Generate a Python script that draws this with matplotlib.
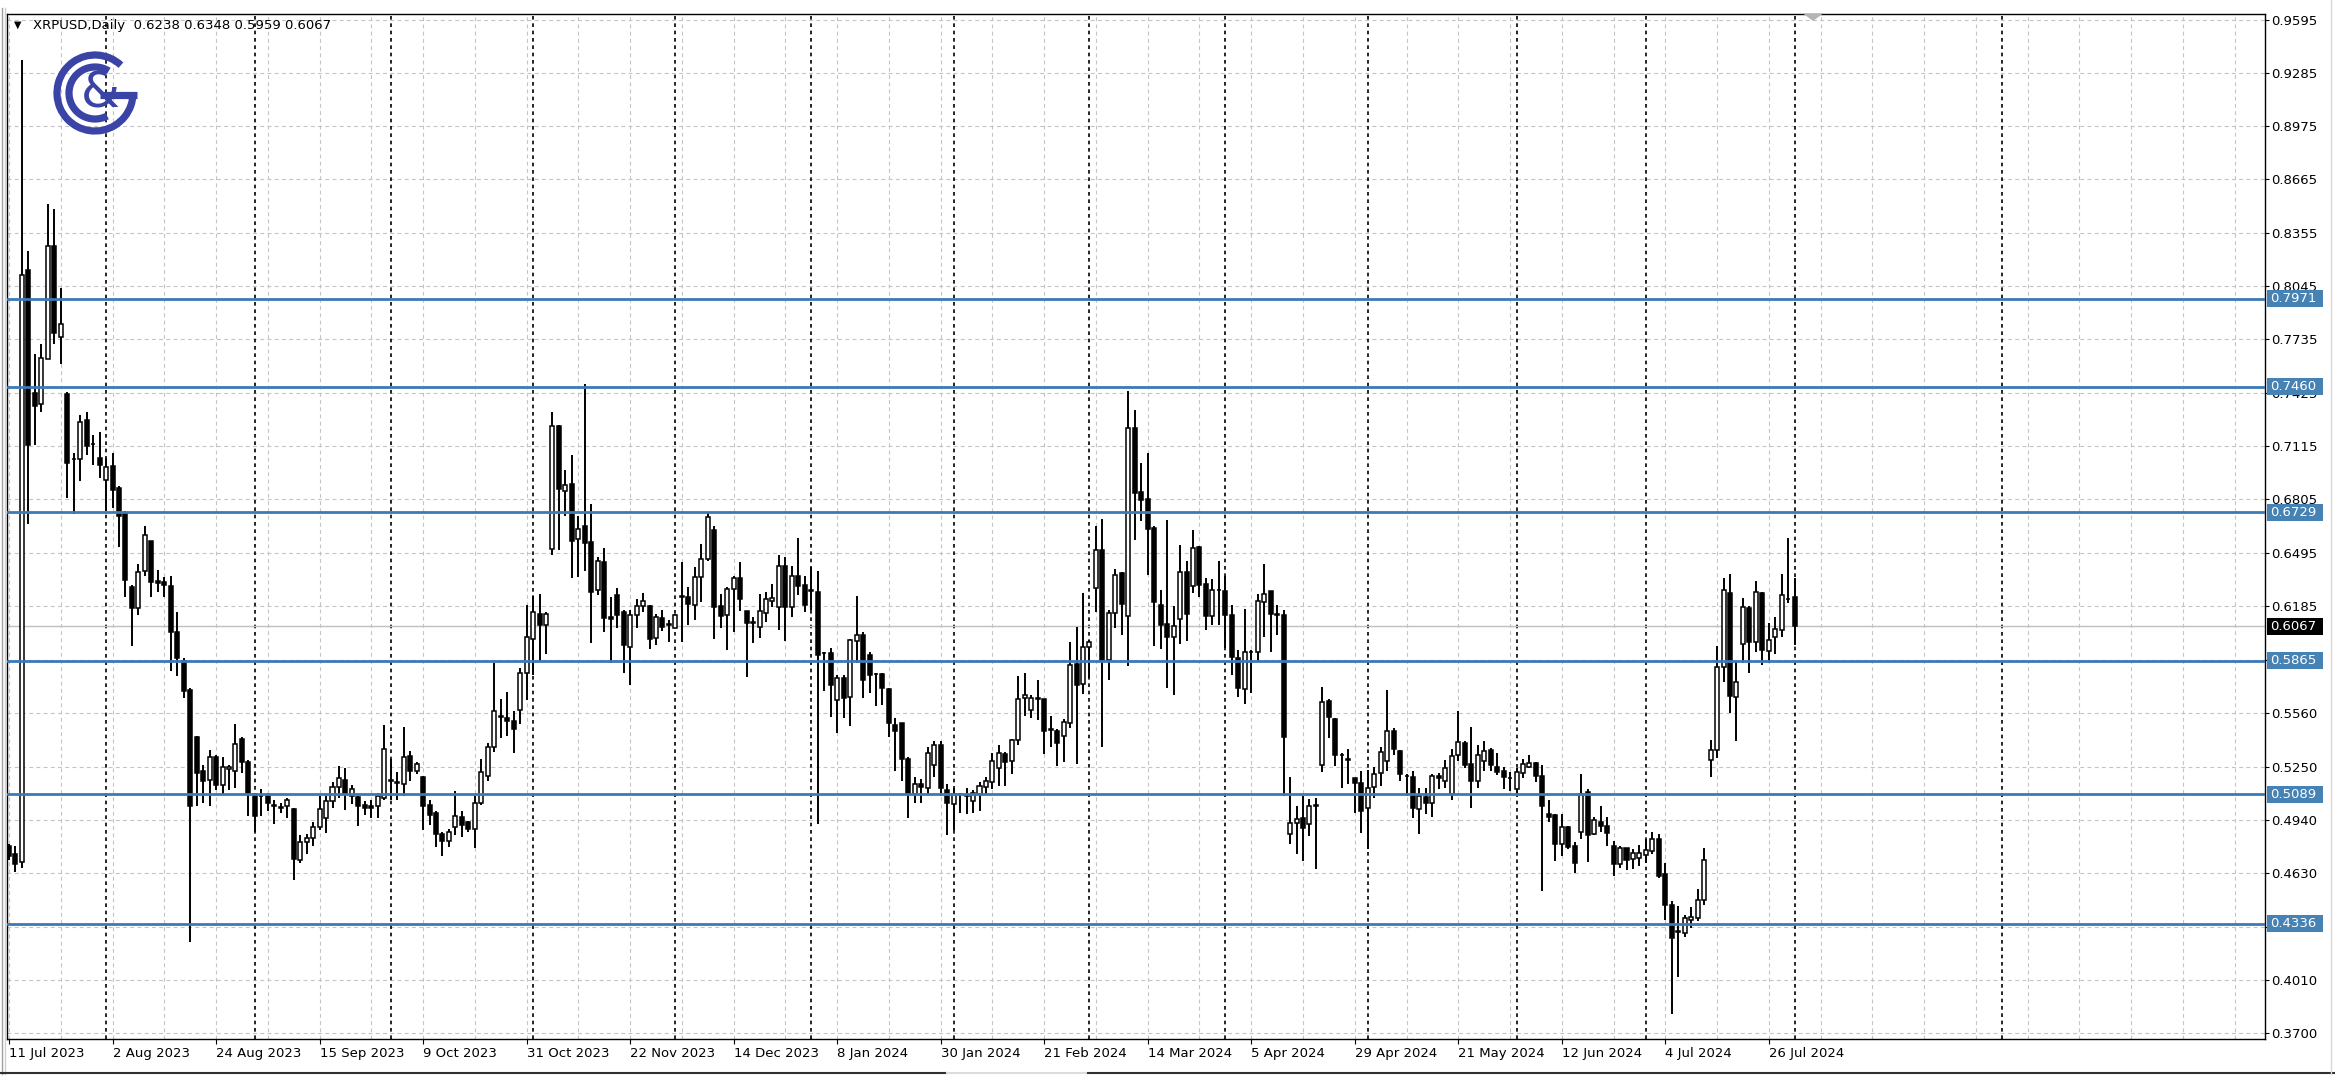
import numpy as np
import matplotlib
matplotlib.use('Agg')
import matplotlib.pyplot as plt
import matplotlib.transforms as mtransforms
from matplotlib.patches import Rectangle, Arc, Polygon
from matplotlib.lines import Line2D

# XRPUSD daily candles, 11 Jul 2023 .. 1 Aug 2024 (one bar per weekday)
opens = [
    0.4790, 0.4744, 0.4694, 0.8139, 0.7422, 0.7357, 0.7622, 0.8278, 0.7750, 0.7416,
    0.7037, 0.7037, 0.7268, 0.7127, 0.7047, 0.6920, 0.6997, 0.6870, 0.6728, 0.6294,
    0.6176, 0.6388, 0.6565, 0.6328, 0.6323, 0.6300, 0.6034, 0.5866, 0.5697, 0.5423,
    0.5225, 0.5172, 0.5304, 0.5142, 0.5236, 0.5225, 0.5414, 0.5275, 0.5089, 0.5078,
    0.5078, 0.5030, 0.5010, 0.5024, 0.5005, 0.4709, 0.4815, 0.4835, 0.4900, 0.4950,
    0.5049, 0.5133, 0.5173, 0.5079, 0.5073, 0.5026, 0.5024, 0.5020, 0.5069, 0.5173,
    0.5160, 0.5149, 0.5312, 0.5228, 0.5192, 0.5030, 0.4980, 0.4860, 0.4821, 0.4900,
    0.4960, 0.4926, 0.4890, 0.5039, 0.5198, 0.5367, 0.5542, 0.5536, 0.5516, 0.5582,
    0.5795, 0.5993, 0.6138, 0.6073, 0.6516, 0.7229, 0.6854, 0.6894, 0.6576, 0.6649,
    0.6559, 0.6276, 0.6443, 0.6118, 0.6251, 0.6150, 0.5948, 0.6135, 0.6185, 0.6185,
    0.5996, 0.6115, 0.6077, 0.6058, 0.6237, 0.6237, 0.6189, 0.6353, 0.6459, 0.6629,
    0.6185, 0.6131, 0.6285, 0.6347, 0.6154, 0.6086, 0.6063, 0.6146, 0.6212, 0.6179,
    0.6416, 0.6179, 0.6362, 0.6308, 0.6272, 0.6266, 0.5909, 0.5909, 0.5639, 0.5768,
    0.5658, 0.5980, 0.6015, 0.5899, 0.5787, 0.5787, 0.5703, 0.5494, 0.5506, 0.5298,
    0.5089, 0.5149, 0.5129, 0.5258, 0.5377, 0.5113, 0.5033, 0.5089, 0.5079, 0.5049,
    0.5089, 0.5133, 0.5159, 0.5244, 0.5324, 0.5284, 0.5403, 0.5650, 0.5582, 0.5646,
    0.5642, 0.5463, 0.5457, 0.5431, 0.5506, 0.5848, 0.5729, 0.5948, 0.6291, 0.6510,
    0.5868, 0.6142, 0.6377, 0.6127, 0.7220, 0.6848, 0.6808, 0.6639, 0.6192, 0.6083,
    0.6007, 0.6112, 0.6381, 0.6303, 0.6527, 0.6314, 0.6127, 0.6276, 0.6270, 0.6131,
    0.5880, 0.5703, 0.5915, 0.5919, 0.6208, 0.6270, 0.6141, 0.6131, 0.4858, 0.4925,
    0.4954, 0.4915, 0.5021, 0.5259, 0.5633, 0.5529, 0.5321, 0.5292, 0.5185, 0.5157,
    0.5012, 0.5132, 0.5214, 0.5286, 0.5459, 0.5340, 0.5195, 0.5189, 0.5002, 0.5074,
    0.5041, 0.5195, 0.5170, 0.5093, 0.5320, 0.5388, 0.5266, 0.5166, 0.5282, 0.5349,
    0.5251, 0.5225, 0.5182, 0.5119, 0.5212, 0.5251, 0.5270, 0.5198, 0.4977, 0.4967,
    0.4800, 0.4898, 0.4787, 0.4869, 0.5104, 0.4859, 0.4931, 0.4904, 0.4790, 0.4682,
    0.4775, 0.4712, 0.4722, 0.4735, 0.4761, 0.4829, 0.4624, 0.4448, 0.4291, 0.4281,
    0.4359, 0.4369, 0.4477, 0.5290, 0.5348, 0.5828, 0.6259, 0.5656, 0.5965, 0.6171,
    0.5975, 0.6263, 0.5926, 0.6004, 0.6044, 0.6224, 0.6238]

highs = [
    0.4800, 0.4788, 0.9360, 0.8249, 0.7652, 0.7711, 0.8523, 0.8494, 0.8036, 0.7428,
    0.7076, 0.7298, 0.7312, 0.7180, 0.7195, 0.7047, 0.7076, 0.6884, 0.6737, 0.6309,
    0.6427, 0.6648, 0.6565, 0.6397, 0.6352, 0.6358, 0.6152, 0.5880, 0.5709, 0.5431,
    0.5260, 0.5349, 0.5319, 0.5304, 0.5260, 0.5497, 0.5423, 0.5290, 0.5098, 0.5118,
    0.5098, 0.5054, 0.5039, 0.5069, 0.5010, 0.4851, 0.4860, 0.4930, 0.5079, 0.5079,
    0.5159, 0.5252, 0.5244, 0.5145, 0.5079, 0.5049, 0.5059, 0.5099, 0.5490, 0.5298,
    0.5218, 0.5482, 0.5343, 0.5278, 0.5198, 0.5059, 0.4990, 0.4870, 0.4890, 0.5109,
    0.4990, 0.4934, 0.5079, 0.5298, 0.5387, 0.5854, 0.5642, 0.5686, 0.5576, 0.5824,
    0.6192, 0.6241, 0.6252, 0.6152, 0.7315, 0.7235, 0.6977, 0.7061, 0.6709, 0.7474,
    0.6777, 0.6468, 0.6521, 0.6237, 0.6289, 0.6160, 0.6160, 0.6227, 0.6262, 0.6193,
    0.6141, 0.6160, 0.6102, 0.6141, 0.6440, 0.6295, 0.6411, 0.6546, 0.6729, 0.6652,
    0.6256, 0.6295, 0.6362, 0.6440, 0.6154, 0.6121, 0.6256, 0.6266, 0.6314, 0.6482,
    0.6468, 0.6416, 0.6578, 0.6362, 0.6410, 0.6391, 0.5919, 0.5938, 0.5784, 0.5784,
    0.5992, 0.6243, 0.6031, 0.5919, 0.5793, 0.5793, 0.5710, 0.5533, 0.5506, 0.5308,
    0.5188, 0.5178, 0.5367, 0.5397, 0.5397, 0.5149, 0.5129, 0.5099, 0.5129, 0.5113,
    0.5159, 0.5188, 0.5331, 0.5377, 0.5338, 0.5411, 0.5775, 0.5795, 0.5666, 0.5755,
    0.5646, 0.5546, 0.5471, 0.5526, 0.5973, 0.6063, 0.6262, 0.5987, 0.6649, 0.6689,
    0.6162, 0.6401, 0.6381, 0.7434, 0.7325, 0.7017, 0.7076, 0.6649, 0.6277, 0.6683,
    0.6182, 0.6540, 0.6444, 0.6626, 0.6536, 0.6347, 0.6343, 0.6449, 0.6359, 0.6189,
    0.5928, 0.6165, 0.5928, 0.6256, 0.6430, 0.6270, 0.6189, 0.6160, 0.5189, 0.5021,
    0.5079, 0.5060, 0.5069, 0.5716, 0.5645, 0.5533, 0.5330, 0.5355, 0.5185, 0.5224,
    0.5234, 0.5247, 0.5363, 0.5697, 0.5475, 0.5349, 0.5205, 0.5224, 0.5128, 0.5128,
    0.5205, 0.5214, 0.5292, 0.5355, 0.5575, 0.5398, 0.5484, 0.5378, 0.5402, 0.5359,
    0.5329, 0.5251, 0.5217, 0.5241, 0.5296, 0.5319, 0.5276, 0.5260, 0.5055, 0.4977,
    0.4977, 0.4908, 0.4810, 0.5206, 0.5123, 0.4957, 0.5021, 0.4957, 0.4820, 0.4790,
    0.4780, 0.4771, 0.4794, 0.4829, 0.4869, 0.4859, 0.4688, 0.4467, 0.4438, 0.4389,
    0.4434, 0.4540, 0.4780, 0.5407, 0.5955, 0.6347, 0.6373, 0.5867, 0.6230, 0.6185,
    0.6328, 0.6269, 0.6087, 0.6118, 0.6373, 0.6582, 0.6348]

lows = [
    0.4710, 0.4640, 0.4660, 0.6663, 0.7121, 0.7313, 0.7622, 0.7711, 0.7593, 0.6810,
    0.6722, 0.6914, 0.7062, 0.7003, 0.6929, 0.6737, 0.6752, 0.6530, 0.6235, 0.5954,
    0.6132, 0.6358, 0.6235, 0.6264, 0.6235, 0.5807, 0.5778, 0.5650, 0.4230, 0.5024,
    0.5039, 0.5024, 0.5113, 0.5083, 0.5113, 0.5127, 0.5216, 0.4965, 0.4868, 0.4965,
    0.4995, 0.4920, 0.4980, 0.4950, 0.4590, 0.4692, 0.4741, 0.4791, 0.4880, 0.4866,
    0.5010, 0.5069, 0.5000, 0.5034, 0.4904, 0.4970, 0.4950, 0.4950, 0.5059, 0.5059,
    0.5059, 0.5079, 0.5168, 0.5208, 0.4880, 0.4910, 0.4781, 0.4731, 0.4781, 0.4851,
    0.4841, 0.4870, 0.4777, 0.5030, 0.5168, 0.5338, 0.5417, 0.5427, 0.5328, 0.5497,
    0.5636, 0.5785, 0.5864, 0.5908, 0.6480, 0.6512, 0.6709, 0.6345, 0.6351, 0.6391,
    0.5967, 0.6247, 0.6031, 0.5851, 0.6054, 0.5793, 0.5726, 0.6058, 0.6150, 0.5934,
    0.5957, 0.6038, 0.5973, 0.6054, 0.5977, 0.6073, 0.6102, 0.6208, 0.6449, 0.5992,
    0.6054, 0.5928, 0.6031, 0.6154, 0.5774, 0.5967, 0.5996, 0.6092, 0.6179, 0.6044,
    0.5980, 0.6121, 0.6247, 0.6150, 0.6160, 0.4915, 0.5691, 0.5542, 0.5446, 0.5533,
    0.5485, 0.5851, 0.5652, 0.5677, 0.5606, 0.5610, 0.5421, 0.5224, 0.5169, 0.4950,
    0.5039, 0.5039, 0.5089, 0.5188, 0.5079, 0.4851, 0.4880, 0.4980, 0.4974, 0.4980,
    0.4990, 0.5089, 0.5119, 0.5139, 0.5139, 0.5208, 0.5377, 0.5546, 0.5536, 0.5522,
    0.5327, 0.5367, 0.5252, 0.5278, 0.5476, 0.5268, 0.5675, 0.5765, 0.6152, 0.5367,
    0.5755, 0.6059, 0.6019, 0.5834, 0.6570, 0.6679, 0.6365, 0.5954, 0.5934, 0.5709,
    0.5669, 0.5964, 0.5979, 0.6259, 0.6237, 0.6044, 0.6073, 0.6073, 0.5938, 0.5783,
    0.5658, 0.5614, 0.5677, 0.5865, 0.6006, 0.5915, 0.6019, 0.5079, 0.4800, 0.4742,
    0.4703, 0.4848, 0.4655, 0.5220, 0.5417, 0.5253, 0.5128, 0.5147, 0.4983, 0.4867,
    0.4771, 0.5066, 0.5137, 0.5228, 0.5321, 0.5166, 0.5079, 0.4954, 0.4857, 0.4973,
    0.4958, 0.5118, 0.5128, 0.5054, 0.5282, 0.5243, 0.5012, 0.5128, 0.5224, 0.5224,
    0.5202, 0.5119, 0.5108, 0.5094, 0.5182, 0.5241, 0.5159, 0.4526, 0.4927, 0.4702,
    0.4732, 0.4771, 0.4630, 0.4830, 0.4696, 0.4853, 0.4873, 0.4790, 0.4614, 0.4663,
    0.4649, 0.4653, 0.4673, 0.4692, 0.4741, 0.4604, 0.4359, 0.3811, 0.4027, 0.4262,
    0.4311, 0.4356, 0.4448, 0.5192, 0.5303, 0.5740, 0.5564, 0.5401, 0.5852, 0.5793,
    0.5916, 0.5844, 0.5852, 0.5907, 0.6004, 0.6200, 0.5959]

closes = [
    0.4730, 0.4685, 0.8110, 0.7121, 0.7348, 0.7628, 0.8278, 0.7770, 0.7823, 0.7017,
    0.7040, 0.7253, 0.7115, 0.7124, 0.7003, 0.6994, 0.6861, 0.6707, 0.6338, 0.6176,
    0.6382, 0.6595, 0.6323, 0.6320, 0.6309, 0.6034, 0.5880, 0.5688, 0.5024, 0.5216,
    0.5166, 0.5304, 0.5142, 0.5246, 0.5246, 0.5385, 0.5275, 0.5098, 0.4965, 0.5078,
    0.5039, 0.5024, 0.5010, 0.5054, 0.4712, 0.4815, 0.4835, 0.4900, 0.5004, 0.5053,
    0.5133, 0.5182, 0.5089, 0.5119, 0.5020, 0.5010, 0.5010, 0.5079, 0.5351, 0.5168,
    0.5158, 0.5308, 0.5228, 0.5264, 0.5020, 0.4970, 0.4860, 0.4821, 0.4870, 0.4965,
    0.4910, 0.4886, 0.5039, 0.5218, 0.5367, 0.5576, 0.5542, 0.5516, 0.5467, 0.5795,
    0.6003, 0.6152, 0.6073, 0.6138, 0.7229, 0.6868, 0.6888, 0.6564, 0.6635, 0.6550,
    0.6266, 0.6449, 0.6115, 0.6112, 0.6135, 0.5957, 0.6131, 0.6183, 0.6212, 0.5992,
    0.6121, 0.6063, 0.6077, 0.6131, 0.6237, 0.6198, 0.6353, 0.6459, 0.6700, 0.6179,
    0.6127, 0.6281, 0.6347, 0.6227, 0.6088, 0.6086, 0.6154, 0.6227, 0.6233, 0.6416,
    0.6179, 0.6362, 0.6300, 0.6189, 0.6272, 0.5899, 0.5909, 0.5726, 0.5768, 0.5652,
    0.5986, 0.6015, 0.5755, 0.5784, 0.5787, 0.5706, 0.5504, 0.5456, 0.5298, 0.5089,
    0.5149, 0.5133, 0.5331, 0.5377, 0.5129, 0.5039, 0.5093, 0.5089, 0.5079, 0.5099,
    0.5139, 0.5169, 0.5282, 0.5328, 0.5278, 0.5407, 0.5642, 0.5666, 0.5650, 0.5646,
    0.5457, 0.5463, 0.5387, 0.5510, 0.5840, 0.5725, 0.5948, 0.5973, 0.6510, 0.5868,
    0.6142, 0.6365, 0.6198, 0.7220, 0.6842, 0.6802, 0.6635, 0.6206, 0.6073, 0.6007,
    0.6067, 0.6381, 0.6138, 0.6520, 0.6308, 0.6127, 0.6276, 0.6276, 0.6135, 0.5890,
    0.5710, 0.5915, 0.5915, 0.6212, 0.6256, 0.6141, 0.6131, 0.5421, 0.4925, 0.4944,
    0.4896, 0.5021, 0.5021, 0.5629, 0.5537, 0.5321, 0.5317, 0.5292, 0.5157, 0.4993,
    0.5128, 0.5209, 0.5336, 0.5459, 0.5355, 0.5205, 0.5195, 0.5008, 0.5079, 0.5041,
    0.5195, 0.5182, 0.5243, 0.5311, 0.5394, 0.5263, 0.5166, 0.5321, 0.5344, 0.5263,
    0.5217, 0.5192, 0.5182, 0.5217, 0.5264, 0.5270, 0.5198, 0.5021, 0.4957, 0.4800,
    0.4898, 0.4781, 0.4688, 0.5094, 0.4853, 0.4943, 0.4908, 0.4865, 0.4682, 0.4780,
    0.4708, 0.4747, 0.4751, 0.4767, 0.4829, 0.4614, 0.4448, 0.4252, 0.4291, 0.4369,
    0.4379, 0.4477, 0.4708, 0.5348, 0.5828, 0.6279, 0.5662, 0.5740, 0.6177, 0.5975,
    0.6269, 0.5930, 0.5989, 0.6053, 0.6249, 0.6224, 0.6067]

# date axis labels (one every 16 bars)
date_labels = ['11 Jul 2023', '2 Aug 2023', '24 Aug 2023', '15 Sep 2023', '9 Oct 2023',
               '31 Oct 2023', '22 Nov 2023', '14 Dec 2023', '8 Jan 2024', '30 Jan 2024',
               '21 Feb 2024', '14 Mar 2024', '5 Apr 2024', '29 Apr 2024', '21 May 2024',
               '12 Jun 2024', '4 Jul 2024', '26 Jul 2024']
# first bar of each month (period separators)
month_starts = [15, 38, 59, 81, 103, 124, 146, 167, 188, 210, 233, 253, 276, 308]

# price scale labels
price_labels = ['0.9595', '0.9285', '0.8975', '0.8665', '0.8355', '0.8045', '0.7735',
                '0.7425', '0.7115', '0.6805', '0.6495', '0.6185', '0.5870', '0.5560',
                '0.5250', '0.4940', '0.4630', '0.4320', '0.4010', '0.3700']
hidden_labels = ['0.5870', '0.4320']

# support / resistance levels drawn on the chart
levels = [0.7971, 0.7460, 0.6729, 0.5865, 0.5089, 0.4336]
last_price = 0.6067
header = 'XRPUSD,Daily  0.6238 0.6348 0.5959 0.6067'

W, H = 2335, 1089
fig = plt.figure(figsize=(W / 100, H / 100), dpi=100)
fig.patch.set_facecolor('white')

# plot area in pixels
L, R, T, B = 7, 2265, 13.5, 1039
ax = fig.add_axes([L / W, 1 - B / H, (R - L) / W, (B - T) / H])
x0px, dx = 9.0, 6.47
ax.set_xlim((L - x0px) / dx, (R - x0px) / dx)
ax.set_ylim(0.3667, 0.9630)

o = np.array(opens); h = np.array(highs); lo = np.array(lows); c = np.array(closes)
idx = np.arange(len(o))
up = c >= o

grid_col = '#c4c4c4'
fs = 9.5

# grid
pvals = [float(s) for s in price_labels]
for p in pvals:
    ax.axhline(p, color=grid_col, lw=0.8, dashes=(3.5, 3), zorder=1)
for b in range(0, 349, 8):
    ax.axvline(b, color=grid_col, lw=0.8, dashes=(3.5, 3), zorder=1)
for b in month_starts:
    ax.axvline(b, color='black', lw=1.2, dashes=(2.2, 2.2), zorder=2)

# last price line
ax.axhline(last_price, color='#c0c0c0', lw=1.0, zorder=2)

# candles
ax.vlines(idx, lo, h, color='black', lw=1.4, zorder=3)
body_bot = np.minimum(o, c)
body_h = np.maximum(np.abs(c - o), 0.0004)
ax.bar(idx[up], body_h[up], bottom=body_bot[up], width=0.62, color='white',
       edgecolor='black', lw=1.1, zorder=4)
ax.bar(idx[~up], body_h[~up], bottom=body_bot[~up], width=0.62, color='black',
       edgecolor='black', lw=1.1, zorder=4)

# horizontal levels
line_blue = '#3b79b7'
box_blue = '#4682b4'
for p in levels:
    ax.axhline(p, color=line_blue, lw=2.0, zorder=5)

# axes / ticks
for s in ax.spines.values():
    s.set_color('black')
    s.set_linewidth(1.0)
ax.yaxis.tick_right()
ax.set_yticks(pvals)
ax.set_yticklabels(['' if s in hidden_labels else s for s in price_labels])
ax.tick_params(axis='y', length=3, width=0.8, pad=1.5, labelsize=fs, colors='black')
ax.set_xticks(np.arange(len(date_labels)) * 16)
ax.set_xticklabels(date_labels)
for t in ax.get_xticklabels():
    t.set_ha('left')
ax.tick_params(axis='x', length=3.5, width=0.8, pad=2.5, labelsize=fs, colors='black')

# price boxes on the right scale
blend = mtransforms.blended_transform_factory(ax.transAxes, ax.transData)
px_w = 1.0 / (R - L)
bh = 17 / 1720.0
for p, col in [(v, box_blue) for v in levels] + [(last_price, 'black')]:
    ax.add_patch(Rectangle((1 + 1.5 * px_w, p - bh / 2), 56 * px_w, bh, transform=blend,
                           facecolor=col, edgecolor='none', clip_on=False, zorder=10))
    ax.text(1 + 5 * px_w, p, '%.4f' % p, transform=blend, color='white', fontsize=fs,
            va='center', ha='left', zorder=11, clip_on=False)

# header text
fig.text(14 / W, 1 - 25 / H, '\u25bc', fontsize=7, va='center', ha='left')
fig.text(33 / W, 1 - 25 / H, header, fontsize=fs, va='center', ha='left')

# chart shift marker
tri = Polygon([[1803 / W, 1 - 13.5 / H], [1823 / W, 1 - 13.5 / H], [1813 / W, 1 - 21 / H]],
              closed=True, transform=fig.transFigure, facecolor='#b4b4b4', edgecolor='none')
fig.add_artist(tri)

# window borders
fig.add_artist(Line2D([2 / W, 2 / W], [1 - 8 / H, 1 - 1074 / H], color='#a0a0a0', lw=1))
fig.add_artist(Line2D([4.5 / W, 4.5 / W], [1 - 8 / H, 1 - 1074 / H], color='#d0d0d0', lw=1))
fig.add_artist(Line2D([0, 947 / W], [1 - 1073 / H] * 2, color='#303030', lw=1.5))
fig.add_artist(Line2D([947 / W, 1088 / W], [1 - 1073 / H] * 2, color='#dcdcdc', lw=1.5))
fig.add_artist(Line2D([1088 / W, 1], [1 - 1073 / H] * 2, color='#303030', lw=1.5))
fig.add_artist(Line2D([2331 / W, 2331 / W], [1 - 0 / H, 1 - 1074 / H], color='#d8d8d8', lw=1))

# logo (C&G)
logo_col = '#3a43a6'
lax = fig.add_axes([45 / W, 1 - 143 / H, 100 / W, 100 / H])
lax.set_xlim(0, 100)
lax.set_ylim(0, 100)
lax.axis('off')
lax.add_patch(Arc((50, 50), 76, 76, theta1=47, theta2=360, lw=5.2, color=logo_col))
lax.plot([55, 91.5], [48.5, 48.5], color=logo_col, lw=5.2, solid_capstyle='butt')
lax.add_patch(Arc((50, 50), 52, 52, theta1=58, theta2=298, lw=5.2, color=logo_col))
lax.text(55, 49, '&', fontsize=36, color=logo_col, ha='center', va='center')

fig.savefig('out.png', dpi=100, facecolor='white')
